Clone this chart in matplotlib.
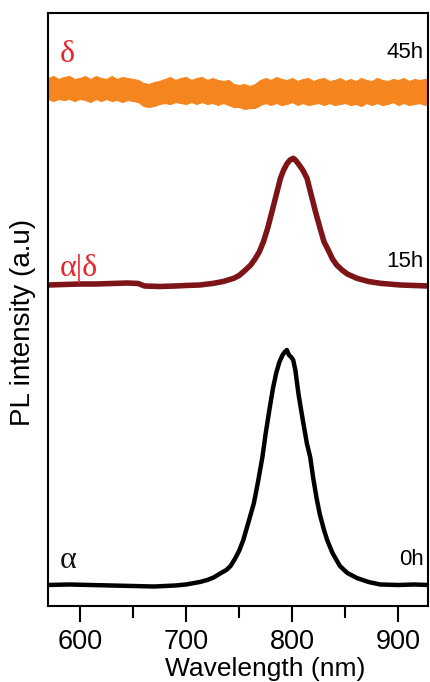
import matplotlib
matplotlib.use("Agg")
import matplotlib.pyplot as plt
from matplotlib.ticker import MultipleLocator

# ---------------- data ----------------
# 0h spectrum (alpha phase), offset stack units
wl_0h = [570, 590, 610, 630, 650, 670, 690, 700, 713, 720, 726, 733, 738, 742,
         746, 750, 754, 757, 760, 764, 768, 772, 775, 779, 782, 785, 788, 791,
         793, 795, 797, 799, 801, 803, 806, 808, 811, 814, 817, 820, 823, 826,
         830, 833, 838, 845, 852, 861, 872, 883, 900, 915, 928]
pl_0h = [21, 21.5, 21, 20.5, 20, 19.5, 20.5, 21.5, 24, 26, 28.5, 33, 36, 40,
         47, 55, 66, 77, 88, 103, 125, 149, 172, 199, 218, 233, 244, 251,
         254, 256, 251, 249, 246, 236, 212, 199, 180, 162, 149, 127, 108, 92,
         76, 66, 53, 40, 33, 28, 24, 21.5, 21, 21.5, 21]

# 15h spectrum (alpha|delta)
wl_15h = [570, 585, 600, 615, 630, 645, 655, 661, 675, 690, 700, 713, 726, 735,
          745, 750, 755, 761, 765, 769, 773, 777, 781, 785, 789, 792, 795, 798,
          801, 803, 806, 810, 814, 818, 822, 826, 830, 834, 838, 842, 847, 852,
          861, 872, 883, 902, 915, 928]
pl_15h = [321, 321.5, 322, 322, 322.5, 323, 322.5, 320, 319.5, 320, 320.5, 321, 322.7, 324.5,
          327.7, 330.5, 335, 341, 347, 354, 364.3, 378, 394.3, 411, 427.7, 436, 442, 446,
          447.7, 446, 442, 436, 427.7, 411, 394.3, 379, 364.3, 356, 347, 341, 336, 332,
          327.7, 324.5, 322.7, 321, 320.5, 320]

# 45h spectrum (delta) - noisy band: upper / lower envelopes
wl_45h = [570, 575, 580, 585, 590, 595, 600, 605, 610, 615, 620, 625, 630, 635,
          640, 645, 650, 655, 660, 665, 670, 675, 680, 685, 690, 695, 700, 705,
          710, 715, 720, 725, 730, 735, 740, 745, 750, 755, 760, 765, 770, 775,
          780, 785, 790, 795, 800, 805, 810, 815, 820, 825, 830, 835, 840, 845,
          850, 855, 860, 865, 870, 875, 880, 885, 890, 895, 900, 905, 910, 915,
          920, 925, 930]
pl_45h_upper = [528, 530, 527, 529, 530, 527, 528, 530, 527, 530, 528, 527, 530, 527,
                529, 528, 527, 526, 523, 522, 524, 525, 527, 529, 526, 528, 529, 526,
                528, 529, 526, 528, 526, 525, 526, 522, 521, 522, 520, 522, 526, 528,
                526, 529, 527, 526, 528, 525, 527, 528, 525, 527, 528, 525, 526, 528,
                525, 527, 525, 528, 526, 525, 528, 526, 525, 527, 526, 528, 525, 527,
                526, 527, 528]
pl_45h_lower = [507, 505, 507, 506, 507, 505, 507, 506, 504, 507, 505, 507, 505, 506,
                504, 506, 505, 504, 500, 499, 500, 502, 503, 502, 504, 503, 502, 504,
                502, 504, 502, 503, 501, 503, 501, 499, 499, 497, 498, 498, 501, 503,
                501, 503, 501, 502, 504, 501, 503, 501, 502, 503, 501, 503, 501, 502,
                503, 501, 502, 500, 503, 501, 503, 501, 502, 504, 501, 503, 501, 502,
                503, 501, 503]

x_ticks = [600, 700, 800, 900]
phase_labels = ["α", "α|δ", "δ"]
time_labels = ["0h", "15h", "45h"]

# ---------------- figure ----------------
W, H = 430, 682
fig = plt.figure(figsize=(W / 100, H / 100), dpi=100)
ax = fig.add_axes([48 / W, 1 - 606 / H, 380 / W, 593 / H])

c_black = "#000000"
c_red = "#7d1518"
c_orange = "#f5861f"
c_label = "#e8242c"

ax.plot(wl_0h, pl_0h, color=c_black, lw=3.2, solid_joinstyle="round")
ax.plot(wl_15h, pl_15h, color=c_red, lw=4.0, solid_joinstyle="round")
ax.fill_between(wl_45h, pl_45h_lower, pl_45h_upper, color=c_orange, lw=0.8,
                edgecolor=c_orange)

ax.set_xlim(570, 928)
ax.set_ylim(0, 593)
ax.set_yticks([])
ax.set_xticks(x_ticks)
ax.xaxis.set_minor_locator(MultipleLocator(50))
ax.tick_params(axis="x", which="major", direction="out", length=11.5, width=1.5,
               pad=5, labelsize=19.5)
ax.tick_params(axis="x", which="minor", direction="out", length=8.5, width=1.5)
for lab in ax.get_xticklabels():
    lab.set_fontfamily("Liberation Sans")
for s in ax.spines.values():
    s.set_linewidth(1.5)

greek = dict(family="Liberation Serif", fontsize=23, color=c_label, va="baseline", ha="left")
ax.text(581, 38, phase_labels[0], **{**greek, "color": "#111111"})
ax.text(581, 330, phase_labels[1], **greek)
ax.text(581, 544, phase_labels[2], **greek)

hl = dict(family="Liberation Sans", fontsize=16, color="black", va="baseline", ha="right")
ax.text(924, 41, time_labels[0], **hl)
ax.text(924, 339, time_labels[1], **hl)
ax.text(924, 548, time_labels[2], **hl)

fig.text(265 / W, (H - 676) / H, "Wavelength (nm)", family="Liberation Sans",
         fontsize=19, ha="center", va="baseline")
fig.text(23 / W, 1 - 322 / H, "PL intensity (a.u)", family="Liberation Sans",
         fontsize=20, ha="center", va="center", rotation=90)

fig.savefig("out.png", dpi=100)
